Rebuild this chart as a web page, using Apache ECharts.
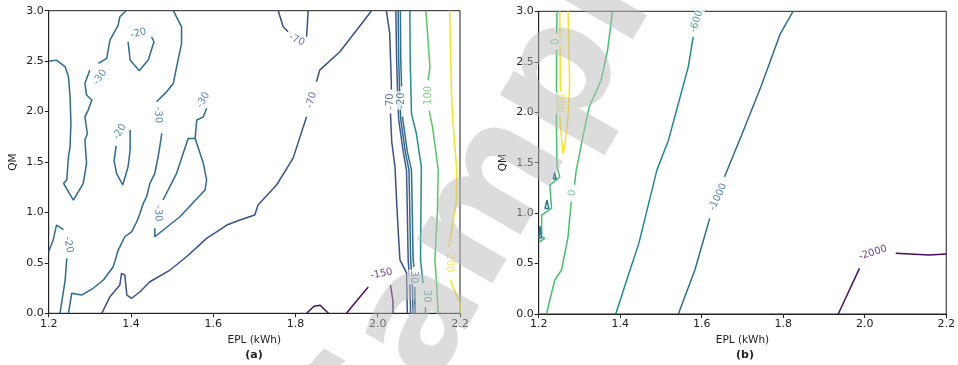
<!DOCTYPE html>
<html>
<head>
<meta charset="utf-8">
<script src="https://cdn.jsdelivr.net/npm/echarts@6/dist/echarts.min.js"></script>
<style>
  html, body { margin: 0; padding: 0; background: #fff; }
  #main { width: 958px; height: 365px; }
</style>
</head>
<body>
<div id="main"></div>
<script>
// axes
const xTicks = [1.2, 1.4, 1.6, 1.8, 2.0, 2.2];
const yTicks = [0.0, 0.5, 1.0, 1.5, 2.0, 2.5, 3.0];

// ---- panel (a) contour paths, [EPL, QM]
const aM30West = [[1.2,2.5],[1.219,2.51],[1.24,2.444],[1.248,2.345],[1.252,2.147],[1.254,1.886],[1.252,1.651],[1.248,1.552],[1.244,1.321],[1.236,1.288],[1.26,1.123],[1.284,1.288],[1.292,1.487],[1.288,1.718],[1.294,1.78],[1.288,1.948],[1.296,2.015],[1.305,2.115],[1.292,2.164],[1.288,2.279],[1.3,2.411]];
const aM30WestTop = [[1.321,2.478],[1.341,2.527],[1.349,2.709],[1.369,2.857],[1.373,2.94],[1.388,3.0]];
const aM20SouthWest = [[1.2,0.61],[1.211,0.73],[1.219,0.875],[1.236,0.83]];
const aM20SouthWestLow = [[1.244,0.545],[1.24,0.33],[1.2275,0]];
const aM30Mid = [[1.248,0],[1.256,0.198],[1.28,0.181],[1.308,0.248],[1.333,0.33],[1.357,0.462],[1.369,0.627],[1.385,0.759],[1.402,0.809],[1.414,0.908],[1.422,0.991],[1.43,1.09],[1.438,1.156],[1.446,1.288],[1.458,1.388],[1.466,1.552],[1.47,1.651],[1.475,1.784]];
const aM30MidTop = [[1.462,2.097],[1.483,2.18],[1.503,2.279],[1.511,2.444],[1.523,2.676],[1.523,2.84],[1.503,3.0]];
const aM20North = [[1.393,2.692],[1.398,2.511],[1.42,2.404],[1.442,2.511],[1.456,2.692],[1.45,2.741]];
const aM20Centre = [[1.364,1.659],[1.359,1.509],[1.365,1.388],[1.38,1.272],[1.393,1.453],[1.398,1.618],[1.398,1.817]];
const aM30EastUp = [[1.478,1.123],[1.511,1.388],[1.539,1.734],[1.556,1.734],[1.56,1.916],[1.576,1.948],[1.584,2.032]];
const aM30EastLow = [[1.556,1.734],[1.576,1.487],[1.584,1.321],[1.58,1.222],[1.519,0.957],[1.458,0.759],[1.458,0.842]];
const aM70Diag = [[1.329,0],[1.349,0.165],[1.373,0.28],[1.377,0.396],[1.385,0.38],[1.39,0.181],[1.402,0.149],[1.422,0.214],[1.446,0.313],[1.495,0.429],[1.535,0.561],[1.584,0.743],[1.633,0.875],[1.665,0.925],[1.701,0.974],[1.709,1.074],[1.754,1.272],[1.794,1.536],[1.827,1.948]];
const aM70DiagTop = [[1.851,2.295],[1.859,2.411],[1.908,2.593],[1.985,3.0]];
const aM70TopL = [[1.758,3.0],[1.77,2.84],[1.782,2.791]];
const aM70TopR = [[1.827,2.741],[1.831,3.0]];
const aM70East = [[2.021,3.0],[2.029,2.78],[2.033,2.3],[2.033,2.22]];
const aM70EastLow = [[2.031,1.98],[2.034,1.7],[2.042,1.45],[2.046,1.1],[2.05,0.8],[2.054,0.53],[2.07,0.4],[2.072,0]];
const aBundle1 = [[2.044,3.0],[2.046,2.5],[2.049,2.1],[2.051,1.92],[2.062,1.6],[2.07,1.42],[2.072,1.0],[2.074,0.53],[2.078,0.3],[2.08,0]];
const aBundle2 = [[2.0496,3.0],[2.051,2.5],[2.054,2.1],[2.056,1.92],[2.067,1.6],[2.076,1.42],[2.078,1.0],[2.08,0.53],[2.084,0.3],[2.086,0]];
const aM20East = [[2.055,3.0],[2.056,2.5],[2.058,2.25]];
const aM20EastLow = [[2.06,1.95],[2.072,1.6],[2.082,1.42],[2.084,1.0],[2.086,0.53],[2.088,0.46]];
const aM20EastEnd = [[2.09,0.26],[2.091,0]];
const aP30 = [[2.078,3.0],[2.079,2.5],[2.082,1.98],[2.094,1.78],[2.106,1.45],[2.105,1.0],[2.104,0.53],[2.11,0.3]];
const aP30End = [[2.116,0.06],[2.116,0]];
const aP100 = [[2.117,3.0],[2.127,2.44],[2.1225,2.31]];
const aP100Low = [[2.125,2.01],[2.133,1.85],[2.143,1.55],[2.147,1.42],[2.145,1.0],[2.139,0.53],[2.143,0.3],[2.147,0]];
const aP200 = [[2.175,3.0],[2.179,2.21],[2.182,1.95],[2.1915,1.45],[2.1915,1.12],[2.179,0.8],[2.173,0.66]];
const aP200Low = [[2.177,0.33],[2.183,0.26],[2.2,0.1],[2.2,0]];
const aM150West = [[1.924,0],[1.957,0.165],[1.977,0.26]];
const aM150East = [[2.031,0.28],[2.037,0.12],[2.037,0]];
const aM150Bump = [[1.827,0],[1.845,0.07],[1.86,0.08],[1.88,0]];

// ---- panel (b) contour paths
const bZeroWest = [[1.245,3.0],[1.244,2.78]];
const bZeroWestLow = [[1.244,2.62],[1.2437,2.449],[1.2437,1.792],[1.245,1.458],[1.2517,1.359],[1.2274,1.277],[1.2315,1.047],[1.2073,0.98],[1.2073,0.765],[1.2153,0.75],[1.2015,0.716]];
const b800 = [[1.2517,3.0],[1.2534,2.2]];
const b800Low = [[1.2517,1.97],[1.2557,1.75],[1.2597,1.59],[1.2638,1.66],[1.2718,1.95],[1.2759,2.28],[1.2738,2.7],[1.2718,3.0]];
const bZeroEast = [[1.381,3.0],[1.369,2.614],[1.353,2.317],[1.324,2.052],[1.31,1.789],[1.296,1.5],[1.292,1.426],[1.288,1.28]];
const bZeroEastLow = [[1.28,1.112],[1.276,0.95],[1.272,0.765],[1.256,0.436],[1.2395,0.337],[1.219,0]];
const bM600 = [[1.389,0],[1.4215,0.403],[1.4457,0.7],[1.4699,1.096],[1.49,1.426],[1.5184,1.723],[1.5427,2.086],[1.567,2.449],[1.579,2.746]];
const bM1000 = [[1.5427,0],[1.5832,0.436],[1.6196,0.948]];
const bM1000Up = [[1.656,1.36],[1.696,1.755],[1.745,2.25],[1.769,2.515],[1.793,2.779],[1.8095,2.894],[1.824,3.0]];
const bM2000 = [[1.935,0],[1.987,0.452]];
const bM2000East = [[2.076,0.601],[2.157,0.584],[2.2,0.594]];
const bTriA = [[1.2354,1.337],[1.239,1.406],[1.2427,1.337],[1.2354,1.337]];
const bTriB = [[1.2153,1.045],[1.2202,1.129],[1.225,1.045],[1.2153,1.045]];
const bTriC = [[1.2007,0.752],[1.2032,0.871],[1.2068,0.752],[1.2007,0.752]];

// inline contour labels: [EPL, QM, text, angle, level]
const labelsA = [
  [1.325, 2.34, '-30', 55, 'm30'],
  [1.248, 0.68, '-20', -80, 'm30'],
  [1.466, 1.966, '-30', -88, 'm30'],
  [1.418, 2.775, '-20', 15, 'm30'],
  [1.373, 1.80, '-20', 60, 'm30'],
  [1.576, 2.114, '-30', 60, 'm30'],
  [1.466, 0.99, '-30', -88, 'm30'],
  [1.839, 2.114, '-70', 75, 'm70'],
  [1.803, 2.71, '-70', -25, 'm70'],
  [2.030, 2.10, '-70', 90, 'm70'],
  [2.058, 2.11, '-20', 90, 'm20'],
  [2.124, 2.16, '100', 90, 'p100'],
  [2.174, 0.50, '200', -90, 'p200'],
  [2.087, 0.36, '30', -90, 'm20'],
  [2.119, 0.17, '30', -90, 'p30'],
  [2.009, 0.39, '-150', 12, 'm150']
];
const labelsB = [
  [1.2437, 2.70, '0', 90, 'zero'],
  [1.2517, 2.09, '800', -90, 'p800'],
  [1.2825, 1.20, '0', 80, 'zero'],
  [1.587, 2.90, '-600', 72, 'm600'],
  [1.640, 1.16, '-1000', 65, 'm1000'],
  [2.020, 0.607, '-2000', 18, 'm2000']
];

const colors = {
  m150: '#470f62', m70: '#3b518a', m50: '#3e5a8c', m30: '#2f6a8d', m20: '#2c718e',
  p30: '#21908c', p100: '#56c667', p200: '#f9e21e',
  zero: '#45bf70', p800: '#f9e21e', m600: '#23888e', m1000: '#2e6c8e', m2000: '#470f62', tri: '#2a788e'
};

const chart = echarts.init(document.getElementById('main'));

const line = (g, data, level) => ({
  type: 'line',
  xAxisIndex: g,
  yAxisIndex: g,
  data: data,
  symbol: 'none',
  silent: true,
  z: 2,
  lineStyle: { color: colors[level], width: 1.5 }
});

const labelSeries = (g, list) => ({
  type: 'scatter',
  xAxisIndex: g,
  yAxisIndex: g,
  symbolSize: 0,
  silent: true,
  z: 4,
  data: list.map(function (d) {
    return {
      value: [d[0], d[1]],
      label: {
        show: true,
        position: 'inside',
        formatter: d[2],
        rotate: d[3],
        color: colors[d[4]],
        fontSize: 10,
        fontFamily: 'DejaVu Sans',
        backgroundColor: '#fff',
        padding: [0, 1]
      }
    };
  })
});

const xAxis = (g) => ({
  gridIndex: g,
  type: 'value',
  min: xTicks[0],
  max: xTicks[xTicks.length - 1],
  interval: 0.2,
  name: 'EPL (kWh)',
  nameLocation: 'middle',
  nameGap: 21,
  nameTextStyle: { color: '#222', fontSize: 10.5, fontFamily: 'DejaVu Sans' },
  axisLine: { show: true, onZero: false, lineStyle: { color: '#222', width: 1 } },
  axisTick: { show: true, length: 4, lineStyle: { color: '#222' } },
  axisLabel: {
    color: '#222', fontSize: 11, fontFamily: 'DejaVu Sans', margin: 5,
    formatter: (v) => v.toFixed(1)
  },
  splitLine: { show: false }
});

const yAxis = (g) => ({
  gridIndex: g,
  type: 'value',
  min: yTicks[0],
  max: yTicks[yTicks.length - 1],
  interval: 0.5,
  name: 'QM',
  nameLocation: 'middle',
  nameRotate: 90,
  nameGap: 30,
  nameTextStyle: { color: '#222', fontSize: 10.5, fontFamily: 'DejaVu Sans' },
  axisLine: { show: true, onZero: false, lineStyle: { color: '#222', width: 1 } },
  axisTick: { show: true, length: 4, lineStyle: { color: '#222' } },
  axisLabel: {
    color: '#222', fontSize: 11, fontFamily: 'DejaVu Sans', margin: 5,
    formatter: (v) => v.toFixed(1)
  },
  splitLine: { show: false }
});

const option = {
  animation: false,
  backgroundColor: '#fff',
  grid: [
    { left: 48.7, top: 10.7, width: 411.3, height: 302.6, show: true, borderColor: '#222', borderWidth: 1, backgroundColor: 'transparent' },
    { left: 538.7, top: 11.3, width: 412.3, height: 302.7, show: true, borderColor: '#222', borderWidth: 1, backgroundColor: 'transparent' }
  ],
  xAxis: [xAxis(0), xAxis(1)],
  yAxis: [yAxis(0), yAxis(1)],
  graphic: [
    { type: 'text', x: 254, y: 355, style: { text: '(a)', font: 'bold 11px "DejaVu Sans"', fill: '#222', align: 'center', verticalAlign: 'middle' } },
    { type: 'text', x: 745, y: 355, style: { text: '(b)', font: 'bold 11px "DejaVu Sans"', fill: '#222', align: 'center', verticalAlign: 'middle' } },
    // grey watermark over the figure
    { type: 'text', x: 505, y: 178, rotation: Math.PI / 3, z: 100, silent: true,
      style: { text: 'Sample', font: 'bold 160px "DejaVu Sans"', fill: 'rgba(185,185,185,0.5)', align: 'center', verticalAlign: 'middle' } }
  ],
  series: [
    line(0, aM30West, 'm30'),
    line(0, aM30WestTop, 'm30'),
    line(0, aM20SouthWest, 'm30'),
    line(0, aM20SouthWestLow, 'm30'),
    line(0, aM30Mid, 'm30'),
    line(0, aM30MidTop, 'm30'),
    line(0, aM20North, 'm30'),
    line(0, aM20Centre, 'm30'),
    line(0, aM30EastUp, 'm30'),
    line(0, aM30EastLow, 'm30'),
    line(0, aM70Diag, 'm70'),
    line(0, aM70DiagTop, 'm70'),
    line(0, aM70TopL, 'm70'),
    line(0, aM70TopR, 'm70'),
    line(0, aM70East, 'm70'),
    line(0, aM70EastLow, 'm70'),
    line(0, aBundle1, 'm50'),
    line(0, aBundle2, 'm30'),
    line(0, aM20East, 'm20'),
    line(0, aM20EastLow, 'm20'),
    line(0, aM20EastEnd, 'm20'),
    line(0, aP30, 'p30'),
    line(0, aP30End, 'p30'),
    line(0, aP100, 'p100'),
    line(0, aP100Low, 'p100'),
    line(0, aP200, 'p200'),
    line(0, aP200Low, 'p200'),
    line(0, aM150West, 'm150'),
    line(0, aM150East, 'm150'),
    line(0, aM150Bump, 'm150'),
    labelSeries(0, labelsA),

    line(1, bZeroWest, 'zero'),
    line(1, bZeroWestLow, 'zero'),
    line(1, b800, 'p800'),
    line(1, b800Low, 'p800'),
    line(1, bZeroEast, 'zero'),
    line(1, bZeroEastLow, 'zero'),
    line(1, bM600, 'm600'),
    line(1, bM1000, 'm1000'),
    line(1, bM1000Up, 'm1000'),
    line(1, bM2000, 'm2000'),
    line(1, bM2000East, 'm2000'),
    line(1, bTriA, 'tri'),
    line(1, bTriB, 'tri'),
    line(1, bTriC, 'tri'),
    labelSeries(1, labelsB)
  ]
};

chart.setOption(option);
</script>
</body>
</html>
